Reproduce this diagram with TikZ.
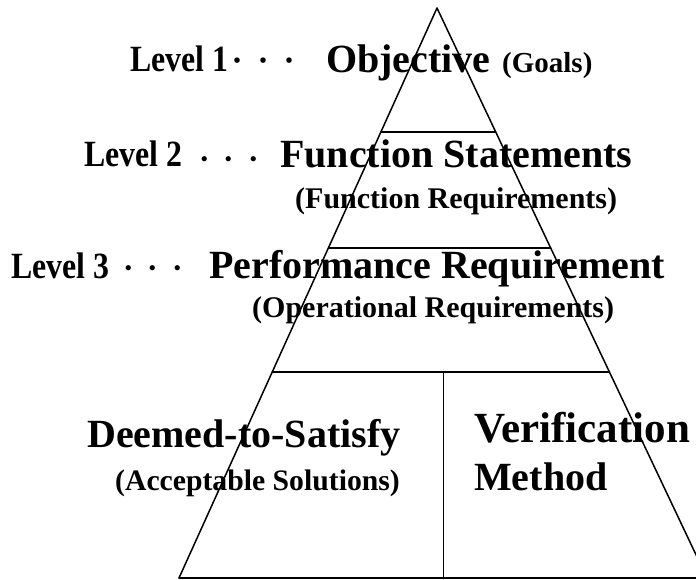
\documentclass[tikz,border=0pt]{standalone}
\usepackage{fontspec}
\setmainfont{Liberation Serif}
\newfontfamily\cjk{Noto Sans CJK JP}
\newfontfamily\lvlfont[FakeStretch=0.86]{Liberation Serif Bold}
\usetikzlibrary{calc}
\begin{document}
\begin{tikzpicture}[x=1pt,y=-1pt,
  edge/.style={line width=1.5pt, line cap=round, line join=round},
  divider/.style={line width=1pt},
  lvl/.style={anchor=base west, inner sep=0pt, font=\lvlfont\fontsize{37}{37}\selectfont},
  title/.style={anchor=base west, inner sep=0pt, font=\bfseries\fontsize{40}{40}\selectfont},
  sub/.style={anchor=base west, inner sep=0pt, font=\bfseries\fontsize{30}{30}\selectfont},
  leader/.style={anchor=center, inner sep=0pt, font=\cjk\fontsize{24.5}{24.5}\selectfont}]
\useasboundingbox (0,0) rectangle (696,580);
\clip (0,0) rectangle (696,580);

% pyramid outline
\coordinate (apex) at (437,8);
\coordinate (bl) at (179,578);
\coordinate (br) at (707,578);
\draw[edge] (bl) -- (apex) -- (br);
\draw[edge] (bl) -- (br);

% tier boundaries
\coordinate (l2a) at ($(apex)!0.2175!(bl)$);
\coordinate (l2b) at ($(apex)!0.2175!(br)$);
\coordinate (l3a) at ($(apex)!0.421!(bl)$);
\coordinate (l3b) at ($(apex)!0.421!(br)$);
\coordinate (l4a) at ($(apex)!0.6386!(bl)$);
\coordinate (l4b) at ($(apex)!0.6386!(br)$);
\draw[edge] (l2a) -- (l2b);
\draw[edge] (l3a) -- (l3b);
\draw[edge] (l4a) -- (l4b);

% split of the bottom tier
\coordinate (vtop) at (443,372);
\coordinate (vbot) at (443,578);
\draw[divider] (vtop) -- (vbot);

% level 1
\node[lvl] (lv1) at (130,72) {Level 1};
\node[leader, font=\cjk\fontsize{26}{26}\selectfont] (d1) at (263,64) {・・・};
\node[title] (obj) at (326,73) {Objective};
\node[sub, font=\bfseries\fontsize{29}{29}\selectfont] (goals) at (502,73) {(Goals)};

% level 2
\node[lvl] (lv2) at (84,167) {Level 2};
\node[leader] (d2) at (229,163) {・・・};
\node[title] (fs) at (280,168) {Function Statements};
\node[sub] (fr) at (295,209) {(Function Requirements)};

% level 3
\node[lvl] (lv3) at (11,278) {Level 3};
\node[leader] (d3) at (153,272) {・・・};
\node[title] (pr) at (209,278) {Performance Requirement};
\node[sub] (or) at (252,317) {(Operational Requirements)};

% bottom tier
\node[title] (dts) at (87,447) {Deemed-to-Satisfy};
\node[sub, font=\bfseries\fontsize{29.7}{29.7}\selectfont] (as) at (115,490) {(Acceptable Solutions)};
\node[title, font=\bfseries\fontsize{43}{43}\selectfont] (ver) at (474,442) {Verification};
\node[title] (meth) at (474,490) {Method};
\end{tikzpicture}
\end{document}
